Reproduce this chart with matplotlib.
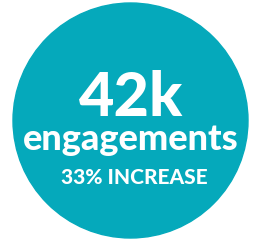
import matplotlib.pyplot as plt
from matplotlib.patches import Circle

# texts in the badge
big_value = '42k'
metric = 'engagements'
change = '33% INCREASE'

teal = '#05A9BB'

fig = plt.figure(figsize=(2.57, 2.40), dpi=100)
ax = fig.add_axes([0, 0, 1, 1])
ax.set_xlim(0, 257)
ax.set_ylim(240, 0)
ax.set_aspect('equal')
ax.axis('off')

ax.add_patch(Circle((130.5, 120.5), 117.5, color=teal))

font = ['Lato', 'DejaVu Sans']
ax.text(131, 98, big_value, color='white', fontsize=44, fontweight='black',
        family=font, ha='center', va='center')
ax.text(131, 140, metric, color='white', fontsize=26, fontweight='black',
        family=font, ha='center', va='center')
ax.text(134.5, 177, change, color='white', fontsize=15, fontweight='black',
        family=font, ha='center', va='center')

plt.savefig('out.png', dpi=100)
